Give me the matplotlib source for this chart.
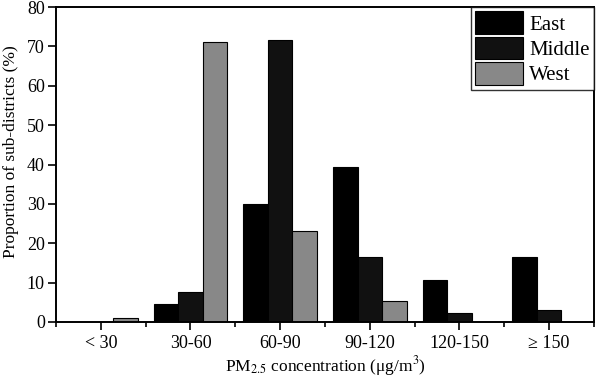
import numpy as np
import matplotlib
matplotlib.use("Agg")
import matplotlib.pyplot as plt
from matplotlib.ticker import FixedLocator

plt.rcParams["font.family"] = ["Liberation Serif", "DejaVu Serif"]
plt.rcParams["mathtext.fontset"] = "stix"

categories = ["< 30", "30-60", "60-90", "90-120", "120-150", "\u2265 150"]
east = [0.0, 4.6, 30.0, 39.3, 10.6, 16.6]
middle = [0.0, 7.6, 71.6, 16.4, 2.4, 3.0]
west = [1.1, 71.0, 23.1, 5.3, 0.0, 0.0]

series = [("East", east, "#000000"), ("Middle", middle, "#111111"), ("West", west, "#888888")]

fig = plt.figure(figsize=(5.98, 3.79), dpi=100)
ax = fig.add_axes([56 / 598, 1 - 322 / 379, 538 / 598, 315 / 379])

x = np.arange(len(categories))
w = 0.273
for i, (name, vals, col) in enumerate(series):
    ax.bar(x + (i - 1) * w, vals, w, color=col, edgecolor="black", linewidth=0.8, label=name)

ax.set_xlim(-0.5, len(categories) - 0.5)
ax.set_ylim(0, 80)
ax.set_yticks(range(0, 81, 10))
ax.set_xticks(x)
ax.set_xticklabels(categories)
ax.xaxis.set_minor_locator(FixedLocator(np.arange(-0.5, len(categories), 1.0)))
ax.tick_params(axis="both", which="major", direction="out", length=6, width=1.2, labelsize=13)
ax.tick_params(axis="y", pad=2)
ax.tick_params(axis="x", which="minor", direction="out", length=3.5, width=1.2)
for s in ax.spines.values():
    s.set_linewidth(1.4)

ax.set_ylabel("Proportion of sub-districts (%)", fontsize=12.5)
ax.yaxis.set_label_coords(-0.068, 0.54)
ax.set_xlabel("PM$_{2.5}$ concentration (\u03bcg/m$^3$)", fontsize=12.5, labelpad=1)

leg = ax.legend(loc="upper right", fontsize=15, frameon=True, fancybox=False,
                handlelength=2.3, handleheight=1.3, handletextpad=0.3,
                labelspacing=0.1, borderpad=0.2, borderaxespad=0.0)
leg.get_frame().set_edgecolor("black")
leg.get_frame().set_linewidth(1.0)

fig.savefig("out.png", dpi=100)
